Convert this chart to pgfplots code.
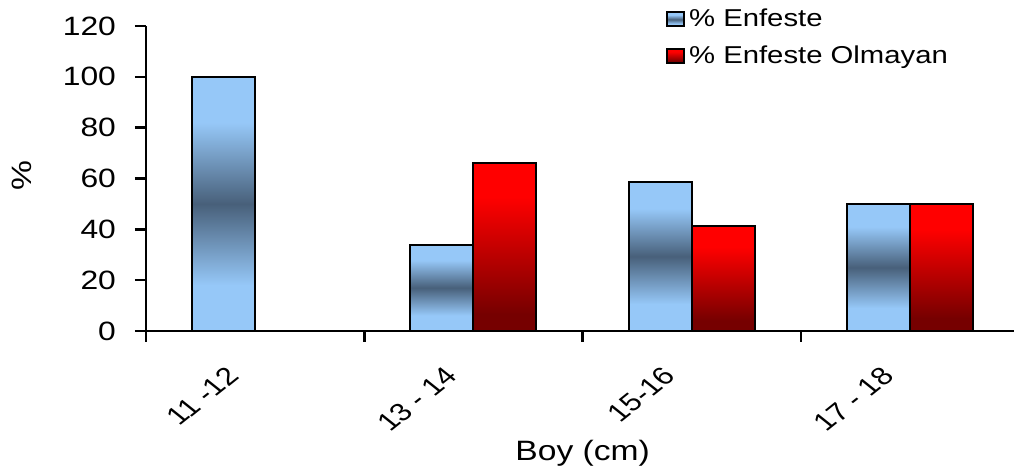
\documentclass[border=0pt]{standalone}
\usepackage{fontspec}
\setmainfont{Liberation Sans}[FakeStretch=1.2]
\newfontfamily\ticksans{Liberation Sans}
\usepackage{pgfplots}
\pgfplotsset{compat=1.18}

\definecolor{barlight}{RGB}{150,200,248}
\definecolor{bardark}{RGB}{72,96,122}
\definecolor{redtop}{RGB}{255,0,0}
\definecolor{redbot}{RGB}{118,0,0}

% vertical shadings; a bar itself covers 25bp..75bp
\pgfdeclareverticalshading{enfeste}{100bp}{color(0bp)=(barlight); color(34bp)=(barlight); color(50bp)=(bardark); color(66bp)=(barlight); color(100bp)=(barlight)}
\pgfdeclareverticalshading{olmayan}{100bp}{color(0bp)=(redbot); color(30bp)=(redbot); color(65bp)=(redtop); color(100bp)=(redtop)}

% each bar is its own plot so that every bar gets its own shading
\pgfplotsset{
  enf/.style={ybar, bar width=31.5pt, bar shift=-15.75pt, draw=black, line width=1pt, shading=enfeste, forget plot},
  olm/.style={ybar, bar width=31.5pt, bar shift=15.75pt, draw=black, line width=1pt, shading=olmayan, forget plot},
}

\begin{document}
\begin{tikzpicture}
\begin{axis}[
  scale only axis,
  width=434pt, height=152.5pt,
  xmin=-0.5, xmax=3.476,
  ymin=0, ymax=120,
  axis lines*=left,
  axis line style={line width=1.2pt, black},
  tick align=outside,
  major tick length=5.5pt,
  tick style={line width=1.2pt, black},
  ytick={0,20,...,120},
  yticklabel style={xshift=-6pt},
  xtick={-0.5,0.5,1.5,2.5},
  xticklabels={},
  extra x ticks={0,1,2,3},
  extra x tick labels={11 -12, 13 - 14, 15-16, 17 - 18},
  extra x tick style={major tick length=0pt,
    xticklabel style={inner sep=0pt, font=\ticksans\fontsize{12.5}{14}\selectfont,
      xshift=-15pt, yshift=-17pt, xscale=1.25, rotate=45, anchor=north east}},
  /pgf/number format/assume math mode=true,
  yticklabel style={font=\fontsize{13.25}{15}\selectfont},
  ylabel={\%},
  xlabel={Boy (cm)},
  every axis y label/.style={at={(axis description cs:-0.1429,0.508)}, rotate=90, anchor=center,
    font=\fontsize{14}{16}\selectfont},
  every axis x label/.style={at={(axis description cs:0.503,-0.423)}, anchor=base,
    font=\fontsize{14}{16}\selectfont},
  legend cell align=left,
  legend style={draw=none, fill=none, at={(axis description cs:0.599,1.07)}, anchor=north west,
    inner sep=0pt, row sep=4pt, font=\fontsize{12.2}{13.5}\selectfont,
    /tikz/every even column/.append style={column sep=8.5pt}},
  legend image code/.code={\path[#1, line width=0.9pt] (0pt,-3.5pt) rectangle (8.5pt,3.5pt);},
]
\addlegendimage{draw=black, shading=enfeste}
\addlegendentry{\% Enfeste}
\addlegendimage{draw=black, shading=olmayan}
\addlegendentry{\% Enfeste Olmayan}

% % Enfeste
\addplot[enf] coordinates {(0,100)};
\addplot[enf] coordinates {(1,34)};
\addplot[enf] coordinates {(2,58.7)};
\addplot[enf] coordinates {(3,50)};
% % Enfeste Olmayan (no bar in the first class)
\addplot[olm] coordinates {(1,66)};
\addplot[olm] coordinates {(2,41.3)};
\addplot[olm] coordinates {(3,50)};
\end{axis}
\pgfresetboundingbox
\path[use as bounding box] (-73pt,-69.5pt) rectangle (434pt,165.5pt);
\end{tikzpicture}
\end{document}
